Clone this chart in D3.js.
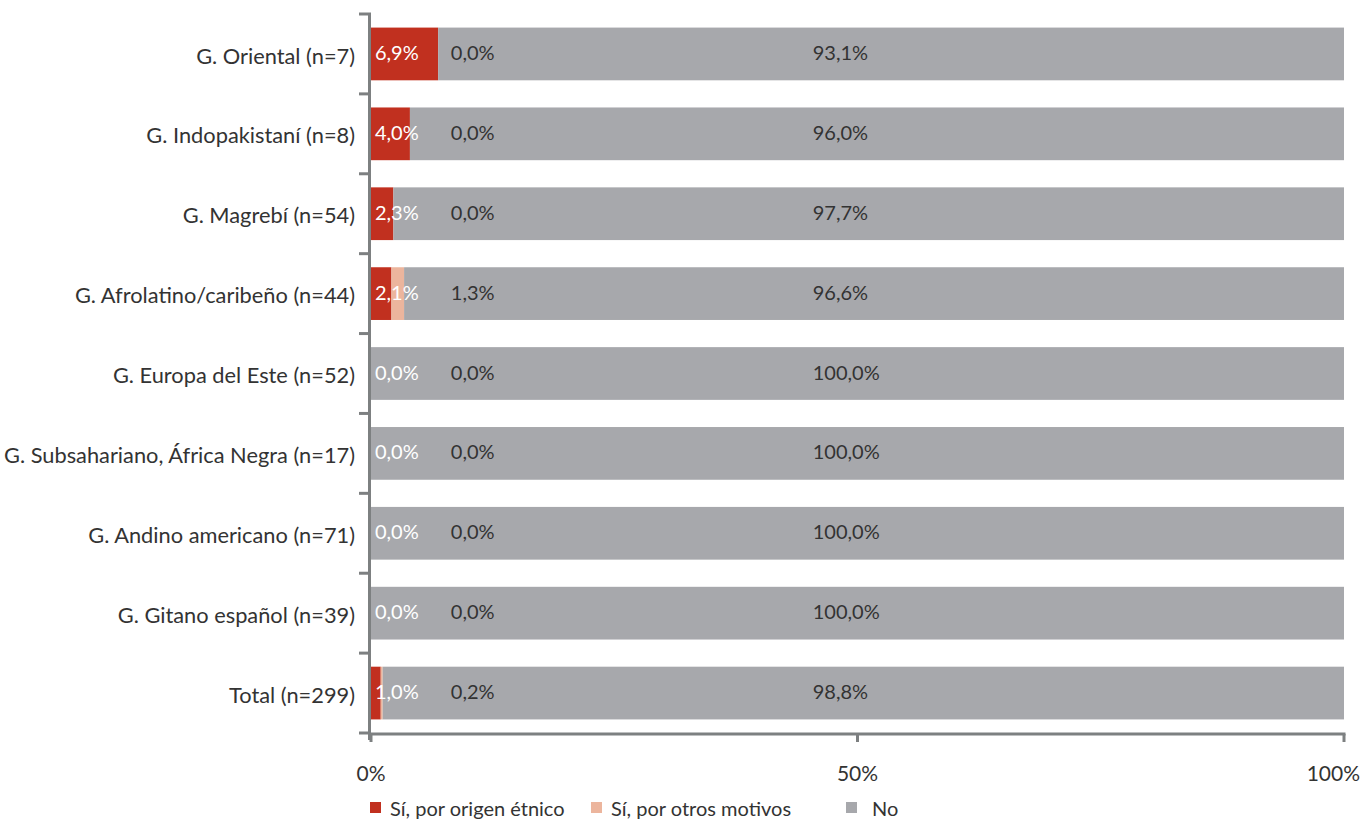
<!DOCTYPE html>
<html>
<head>
	<meta charset="utf-8">
	<title>Discriminación por grupo</title>
	<style>
		body { margin: 0; background: #fff; }
		text { font-family: Lato, "Noto Sans", sans-serif; fill: #333; }
	</style>
</head>
<body>
	<svg class="svg" width="1363" height="820"></svg>
	<script src="https://cdn.jsdelivr.net/npm/d3@7"></script>
	<script>
		// categories, top to bottom
		var categories = [
			"G. Oriental (n=7)",
			"G. Indopakistaní (n=8)",
			"G. Magrebí (n=54)",
			"G. Afrolatino/caribeño (n=44)",
			"G. Europa del Este (n=52)",
			"G. Subsahariano, África Negra (n=17)",
			"G. Andino americano (n=71)",
			"G. Gitano español (n=39)",
			"Total (n=299)"
		];

		// series values (%)
		var origenEtnico = [6.9, 4.0, 2.3, 2.1, 0.0, 0.0, 0.0, 0.0, 1.0];
		var otrosMotivos = [0.0, 0.0, 0.0, 1.3, 0.0, 0.0, 0.0, 0.0, 0.2];
		var noValues = [93.1, 96.0, 97.7, 96.6, 100.0, 100.0, 100.0, 100.0, 98.8];

		var seriesNames = ["Sí, por origen étnico", "Sí, por otros motivos", "No"];
		var seriesColors = ["#c1301f", "#ecb59d", "#a7a8ac"];
		var tickValues = [0, 50, 100];
		var tickLabels = ["0%", "50%", "100%"];

		var svg = d3.select("svg");

		var margin = { top: 14, left: 371, right: 19, bottom: 87 };
		var width = +svg.attr("width") - margin.left - margin.right;
		var height = +svg.attr("height") - margin.top - margin.bottom;

		var x = d3.scaleLinear().domain([0, 100]).range([margin.left, margin.left + width]);
		var y = d3.scaleBand()
			.domain(categories)
			.range([margin.top, margin.top + height])
			.paddingInner(0.34)
			.paddingOuter(0.17);

		//build rows for stacking
		var rows = categories.map(function(c, i) {
			return { cat: c, a: origenEtnico[i], b: otrosMotivos[i], c: noValues[i] };
		});
		var stack = d3.stack().keys(["a", "b", "c"]);
		var layers = stack(rows);

		var fmt = function(v) { return v.toFixed(1).replace(".", ",") + "%"; };

		//bars
		svg.append("g").selectAll("g")
			.data(layers)
			.enter().append("g")
			.attr("fill", function(d, i) { return seriesColors[i]; })
			.selectAll("rect")
			.data(function(d) { return d; })
			.enter().append("rect")
			.attr("x", function(d) { return x(d[0]); })
			.attr("y", function(d) { return y(d.data.cat); })
			.attr("width", function(d) { return x(d[1]) - x(d[0]); })
			.attr("height", y.bandwidth());

		//value labels (Excel-style fixed positions)
		var labelPos = [0.4, 8.2, 45.4];
		var labelColors = ["#ffffff", "#333333", "#333333"];
		var labelSeries = [origenEtnico, otrosMotivos, noValues];
		labelSeries.forEach(function(vals, s) {
			svg.append("g").selectAll("text")
				.data(vals)
				.enter().append("text")
				.attr("x", x(labelPos[s]))
				.attr("y", function(d, i) { return y(categories[i]) + y.bandwidth() / 2; })
				.attr("dy", "0.3em")
				.style("font-size", "20px")
				.style("fill", labelColors[s])
				.text(fmt);
		});

		var axisColor = "#7d8081";

		//y axis
		var yAxis = svg.append("g");
		yAxis.append("line")
			.attr("x1", margin.left - 1.5).attr("x2", margin.left - 1.5)
			.attr("y1", margin.top).attr("y2", margin.top + height + 7)
			.attr("stroke", axisColor).attr("stroke-width", 3);
		var bounds = d3.range(categories.length + 1).map(function(i) {
			return margin.top + i * y.step();
		});
		yAxis.selectAll(".tk")
			.data(bounds)
			.enter().append("line")
			.attr("x1", margin.left - 12).attr("x2", margin.left)
			.attr("y1", function(d) { return d; }).attr("y2", function(d) { return d; })
			.attr("stroke", axisColor).attr("stroke-width", 3);
		yAxis.selectAll(".lbl")
			.data(categories)
			.enter().append("text")
			.attr("x", margin.left - 16)
			.attr("y", function(d) { return y(d) + y.bandwidth() / 2 + 2; })
			.attr("dy", "0.35em")
			.attr("text-anchor", "end")
			.style("font-size", "21.8px")
			.text(function(d) { return d; });

		//x axis
		var xAxis = svg.append("g");
		var axisY = margin.top + height + 1;
		xAxis.append("line")
			.attr("x1", margin.left - 3).attr("x2", x(100) + 1.5)
			.attr("y1", axisY).attr("y2", axisY)
			.attr("stroke", axisColor).attr("stroke-width", 3);
		xAxis.selectAll(".tk")
			.data(tickValues)
			.enter().append("line")
			.attr("x1", function(d) { return x(d); }).attr("x2", function(d) { return x(d); })
			.attr("y1", axisY).attr("y2", axisY + 8)
			.attr("stroke", axisColor).attr("stroke-width", 3);
		xAxis.selectAll(".lbl")
			.data(tickValues)
			.enter().append("text")
			.attr("x", function(d, i) { return i === tickValues.length - 1 ? x(d) + 16 : x(d); })
			.attr("y", axisY + 47)
			.attr("text-anchor", function(d, i) { return i === tickValues.length - 1 ? "end" : "middle"; })
			.style("font-size", "21px")
			.text(function(d, i) { return tickLabels[i]; });

		//legend
		var legendX = [370, 591, 846];
		var legend = svg.append("g").selectAll("g")
			.data(seriesNames)
			.enter().append("g")
			.attr("transform", function(d, i) { return "translate(" + legendX[i] + ",808)"; });
		legend.append("rect")
			.attr("x", 0).attr("y", -6)
			.attr("width", 11).attr("height", 11)
			.attr("fill", function(d, i) { return seriesColors[i]; });
		legend.append("text")
			.attr("x", function(d, i) { return i === 2 ? 26 : 20; })
			.attr("y", 1)
			.attr("dy", "0.35em")
			.style("font-size", "20px")
			.text(function(d) { return d; });
	</script>
</body>
</html>
